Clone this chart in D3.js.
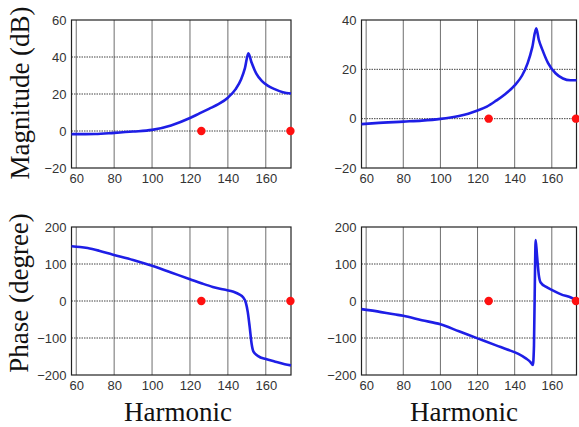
<!DOCTYPE html>
<html>
<head>
<meta charset="utf-8">
<script src="https://cdn.jsdelivr.net/npm/d3@7"></script>
<style>
  body { margin: 0; background: #fff; }
  svg { display: block; }
</style>
</head>
<body>
<svg width="579" height="427"></svg>
<script>
const width = 579;
const height = 427;

const xTicks = [60, 80, 100, 120, 140, 160];
const xDomain = [57.5, 173.3];
const magLeftTicks = [-20, 0, 20, 40, 60];
const magRightTicks = [-20, 0, 20, 40];
const phaseTicks = [-200, -100, 0, 100, 200];
const markerHarmonics = [126, 173];

// [harmonic, value]
const magLeft = [[57.5,-1.7],[60,-1.7],[70,-1.6],[80,-1.0],[90,-0.3],[100,0.6],[110,3],[120,7],
  [125,9.5],[130,12],[135,14.5],[140,18],[144,22.5],[147,28],[149,34],[150.8,42],[152.5,37],
  [155,31],[158,27],[161,24.5],[165,22.5],[169,21],[173.3,20.3]];
const magRight = [[57.5,-2.2],[65,-1.8],[80,-1.2],[90,-0.8],[100,-0.1],[110,1.1],[115,2],[120,3.3],
  [125,4.9],[130,7.3],[135,10],[140,13.5],[144,17.5],[147,22.5],[149.5,29],[151.6,36.6],[153,32],
  [155,27.8],[158,22.5],[162,18.4],[166,16.3],[170,15.6],[173.3,15.6]];
const phaseLeft = [[57.5,148],[62,146],[66,143],[72,136],[79,126],[90,111],[100,95],[110,77],
  [120,59],[126,48],[132,38],[138,31],[143,25],[146,18],[148,10],[149.5,-5],[150.5,-30],
  [151.5,-70],[152.5,-115],[153.5,-137],[156,-149],[160,-157],[165,-164],[170,-171],[173.3,-174]];
const phaseRight = [[57.5,-22],[66,-28],[75,-36],[80,-40],[90,-52],[100,-63],[110,-82],[120,-101],
  [130,-120],[136,-131],[142,-143],[146,-155],[148.5,-165],[149.8,-173],[150.4,-120],[151,100],
  [151.3,165],[152,125],[153,70],[154,50],[157,38],[160,30],[165,18],[170,10],[173.3,2]];

const panels = [
  {x0: 71.5, x1: 291, y0: 20, y1: 168, yDomain: [-20, 60], yTicks: magLeftTicks, data: magLeft},
  {x0: 361.5, x1: 576.5, y0: 20, y1: 168, yDomain: [-20, 40], yTicks: magRightTicks, data: magRight},
  {x0: 71.5, x1: 291, y0: 227, y1: 375, yDomain: [-200, 200], yTicks: phaseTicks, data: phaseLeft},
  {x0: 361.5, x1: 576.5, y0: 227, y1: 375, yDomain: [-200, 200], yTicks: phaseTicks, data: phaseRight}
];

const svg = d3.select("svg").attr("viewBox", [0, 0, width, height]);

panels.forEach(p => {
  const x = d3.scaleLinear().domain(xDomain).range([p.x0, p.x1]);
  const y = d3.scaleLinear().domain(p.yDomain).range([p.y1, p.y0]);
  const g = svg.append("g");

  // vertical grid
  g.append("g")
    .selectAll("line")
    .data(xTicks)
    .join("line")
    .attr("x1", d => x(d)).attr("x2", d => x(d))
    .attr("y1", p.y0).attr("y2", p.y1)
    .attr("stroke", "#6e6e6e")
    .attr("stroke-width", 1);

  // horizontal grid
  g.append("g")
    .selectAll("line")
    .data(p.yTicks.filter(d => d !== p.yDomain[0] && d !== p.yDomain[1]))
    .join("line")
    .attr("x1", p.x0).attr("x2", p.x1)
    .attr("y1", d => y(d)).attr("y2", d => y(d))
    .attr("stroke", "#444")
    .attr("stroke-dasharray", "1.5,1")
    .attr("stroke-width", 1);

  // frame
  g.append("rect")
    .attr("x", p.x0).attr("y", p.y0)
    .attr("width", p.x1 - p.x0).attr("height", p.y1 - p.y0)
    .attr("fill", "none")
    .attr("stroke", "#222")
    .attr("stroke-width", 1.2);

  // axes (labels only)
  const xAxis = g.append("g")
    .attr("transform", `translate(0,${p.y1})`)
    .call(d3.axisBottom(x).tickValues(xTicks).tickSize(0).tickPadding(6));
  const yAxis = g.append("g")
    .attr("transform", `translate(${p.x0},0)`)
    .call(d3.axisLeft(y).tickValues(p.yTicks).tickSize(0).tickPadding(5));
  [xAxis, yAxis].forEach(a => {
    a.select(".domain").remove();
    a.selectAll("text")
      .attr("font-family", "Liberation Sans, Arial, sans-serif")
      .attr("font-size", 13)
      .attr("fill", "#333");
  });

  // curve
  g.append("path")
    .datum(p.data)
    .attr("fill", "none")
    .attr("stroke", "#1e1ee6")
    .attr("stroke-width", 2.6)
    .attr("stroke-linejoin", "round")
    .attr("d", d3.line()
      .x(d => x(d[0]))
      .y(d => y(d[1]))
      .curve(d3.curveMonotoneX));

  // red markers
  g.append("g")
    .selectAll("circle")
    .data(markerHarmonics)
    .join("circle")
    .attr("cx", d => x(d))
    .attr("cy", y(0))
    .attr("r", 4.2)
    .attr("fill", "#ff1010");
});

const serif = "Liberation Serif, Times New Roman, serif";

svg.append("text")
  .attr("transform", "translate(29,93) rotate(-90)")
  .attr("text-anchor", "middle")
  .attr("font-family", serif)
  .attr("font-size", 27)
  .attr("fill", "#111")
  .text("Magnitude (dB)");

svg.append("text")
  .attr("transform", "translate(28,293) rotate(-90)")
  .attr("text-anchor", "middle")
  .attr("font-family", serif)
  .attr("font-size", 27)
  .attr("fill", "#111")
  .text("Phase (degree)");

svg.selectAll("text.xlabel")
  .data([178, 464])
  .join("text")
  .attr("class", "xlabel")
  .attr("x", d => d)
  .attr("y", 421)
  .attr("text-anchor", "middle")
  .attr("font-family", serif)
  .attr("font-size", 27)
  .attr("fill", "#111")
  .text("Harmonic");
</script>
</body>
</html>
